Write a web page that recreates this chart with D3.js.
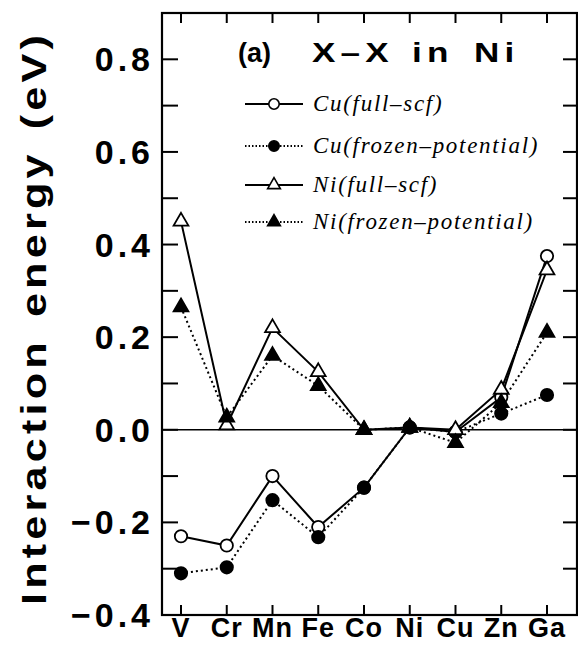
<!DOCTYPE html>
<html lang="en">
<head>
<meta charset="utf-8">
<script src="https://d3js.org/d3.v7.min.js"></script>
<style>
  body { margin: 0; background: #fff; }
  text { font-family: "Liberation Sans", Arial, sans-serif; fill: #000; }
  .ylab { font-weight: bold; font-size: 34px; }
  .xlab { font-weight: bold; font-size: 27px; }
  .leg { font-family: "Liberation Serif", "Times New Roman", serif; font-style: italic; font-size: 23px; }
</style>
</head>
<body>
<svg width="578" height="646"></svg>
<script>

// solutes along the x axis
var elements = ["V", "Cr", "Mn", "Fe", "Co", "Ni", "Cu", "Zn", "Ga"];

// interaction energies (eV)
var cuFull   = [-0.23, -0.25, -0.10, -0.21, -0.125, 0.005, -0.005, 0.07, 0.375];
var cuFrozen = [-0.31, -0.297, -0.152, -0.232, -0.125, 0.005, -0.005, 0.035, 0.075];
var niFull   = [0.45, 0.01, 0.22, 0.125, 0.0, 0.005, 0.0, 0.087, 0.345];
var niFrozen = [0.265, 0.027, 0.16, 0.095, 0.0, 0.005, -0.028, 0.058, 0.21];

var yTicks = [-0.4, -0.2, 0.0, 0.2, 0.4, 0.6, 0.8];
var yMinor = [-0.3, -0.1, 0.1, 0.3, 0.5, 0.7];

var legendLabels = ["Cu(full\u2013scf)", "Cu(frozen\u2013potential)", "Ni(full\u2013scf)", "Ni(frozen\u2013potential)"];
var titleWords = ["(a)", "X\u2013X", "in", "Ni"];

var svg = d3.select("svg");
var plotL = 162, plotR = 577, plotT = 13, plotB = 615;

var x = d3.scalePoint().domain(elements).range([181, 547]);
var y = d3.scaleLinear().domain([-0.4, 0.9]).range([plotB, plotT]);

// frame
svg.append("rect")
    .attr("x", plotL).attr("y", plotT)
    .attr("width", plotR - plotL).attr("height", plotB - plotT)
    .attr("fill", "none").attr("stroke", "#000").attr("stroke-width", 2.2);

// zero line
svg.append("line")
    .attr("x1", plotL).attr("x2", plotR)
    .attr("y1", y(0)).attr("y2", y(0))
    .attr("stroke", "#000").attr("stroke-width", 1.6);

// y ticks, left and right, pointing inward
var allY = yTicks.concat(yMinor);
svg.selectAll(".ytl").data(allY).enter().append("line")
    .attr("x1", plotL).attr("x2", plotL + 16)
    .attr("y1", function(d) { return y(d); }).attr("y2", function(d) { return y(d); })
    .attr("stroke", "#000").attr("stroke-width", 2);
svg.selectAll(".ytr").data(allY).enter().append("line")
    .attr("x1", plotR).attr("x2", plotR - 14)
    .attr("y1", function(d) { return y(d); }).attr("y2", function(d) { return y(d); })
    .attr("stroke", "#000").attr("stroke-width", 2);

// x ticks top and bottom
svg.selectAll(".xtb").data(elements).enter().append("line")
    .attr("x1", function(d) { return x(d); }).attr("x2", function(d) { return x(d); })
    .attr("y1", plotB).attr("y2", plotB - 10)
    .attr("stroke", "#000").attr("stroke-width", 2);
svg.selectAll(".xtt").data(elements).enter().append("line")
    .attr("x1", function(d) { return x(d); }).attr("x2", function(d) { return x(d); })
    .attr("y1", plotT).attr("y2", plotT + 10)
    .attr("stroke", "#000").attr("stroke-width", 2);

// tick labels
svg.selectAll(".ylab").data(yTicks).enter().append("text")
    .attr("class", "ylab")
    .attr("x", 154)
    .attr("y", function(d) { return y(d) + 12; })
    .attr("text-anchor", "end")
    .style("letter-spacing", "4px")
    .text(function(d) { return d3.format(".1f")(d).replace("-", "\u2212"); });

svg.selectAll(".xlab").data(elements).enter().append("text")
    .attr("class", "xlab")
    .attr("x", function(d) { return x(d); })
    .attr("y", 637)
    .attr("text-anchor", "middle")
    .style("letter-spacing", "1px")
    .text(function(d) { return d; });

// y axis title (wide bold lettering)
svg.append("text")
    .attr("transform", "translate(46,318) rotate(-90) scale(1.2,1)")
    .attr("text-anchor", "middle")
    .style("font-weight", "bold").style("font-size", "36px")
    .style("letter-spacing", "3.5px")
    .style("word-spacing", "4px")
    .text("Interaction energy (eV)");

// series
var series = [
    { vals: cuFull,   dash: null,  shape: "circle",   fill: "#fff" },
    { vals: cuFrozen, dash: "2,3", shape: "circle",   fill: "#000" },
    { vals: niFull,   dash: null,  shape: "triangle", fill: "#fff" },
    { vals: niFrozen, dash: "2,3", shape: "triangle", fill: "#000" }
];

var line = d3.line()
    .x(function(d, i) { return x(elements[i]); })
    .y(function(d) { return y(d); });

var circleSym = d3.symbol().type(d3.symbolCircle).size(120);
var triSym = d3.symbol().type(d3.symbolTriangle).size(95);

series.forEach(function(s) {
    svg.append("path")
        .attr("d", line(s.vals))
        .attr("fill", "none").attr("stroke", "#000")
        .attr("stroke-width", 2)
        .attr("stroke-dasharray", s.dash);
});

series.forEach(function(s) {
    svg.selectAll(null).data(s.vals).enter().append("path")
        .attr("d", s.shape === "circle" ? circleSym : triSym)
        .attr("transform", function(d, i) { return "translate(" + x(elements[i]) + "," + y(d) + ")"; })
        .attr("fill", s.fill).attr("stroke", "#000").attr("stroke-width", 1.8);
});

// panel title, wide lettering spread out as in the original
var titleX = [238, 312, 412, 474];
var titleScale = [1.0, 1.3, 1.3, 1.3];
svg.selectAll(".ttl").data(titleWords).enter().append("text")
    .attr("transform", function(d, i) { return "translate(" + titleX[i] + ",62) scale(" + titleScale[i] + ",1)"; })
    .style("font-weight", "bold").style("font-size", "27px")
    .style("letter-spacing", function(d, i) { return i === 0 ? "0px" : "4px"; })
    .text(function(d) { return d; });

// legend
var legY = [104, 146, 185, 222];
series.forEach(function(s, i) {
    var g = svg.append("g").attr("transform", "translate(0," + legY[i] + ")");
    g.append("line")
        .attr("x1", 245).attr("x2", 303).attr("y1", 0).attr("y2", 0)
        .attr("stroke", "#000").attr("stroke-width", 2)
        .attr("stroke-dasharray", s.dash ? "1.5,2" : null);
    g.append("path")
        .attr("d", (s.shape === "circle" ? d3.symbol().type(d3.symbolCircle).size(85) : d3.symbol().type(d3.symbolTriangle).size(70))())
        .attr("transform", "translate(274,0)")
        .attr("fill", s.fill).attr("stroke", "#000").attr("stroke-width", 1.6);
    g.append("text")
        .attr("class", "leg")
        .attr("x", 313).attr("y", 7)
        .style("letter-spacing", "1.7px")
        .text(legendLabels[i]);
});

</script>
</body>
</html>
